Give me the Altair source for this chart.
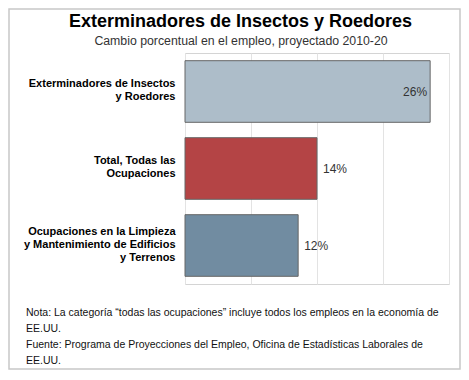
import altair as alt
import pandas as pd

# ---- data ----
categories = [
    "Exterminadores de Insectos|y Roedores",
    "Total, Todas las|Ocupaciones",
    "Ocupaciones en la Limpieza|y Mantenimiento de Edificios|y Terrenos",
]
values = [26, 14, 12]
value_labels = ["26%", "14%", "12%"]
bar_colors = ["#adbdc9", "#b44445", "#718ca1"]
x_ticks = [0, 7, 14, 21, 28]

title_text = "Exterminadores de Insectos y Roedores"
subtitle_text = "Cambio porcentual en el empleo, proyectado 2010-20"
footer_lines = [
    "Nota: La categoría \u201ctodas las ocupaciones\u201d incluye todos los empleos en la economía de",
    "EE.UU.",
    "Fuente: Programa de Proyecciones del Empleo, Oficina de Estadísticas Laborales de",
    "EE.UU.",
]

df = pd.DataFrame({"cat": categories, "value": values, "label": value_labels})

FONT = "Liberation Sans"

y_enc = alt.Y(
    "cat:N",
    sort=categories,
    scale=alt.Scale(paddingInner=0.2, paddingOuter=0.1),
    axis=alt.Axis(
        title=None,
        labelExpr="split(datum.label, '|')",
        labelFontWeight="bold",
        labelFontSize=11,
        labelColor="#000000",
        labelLineHeight=13.3,
        labelLimit=0,
        labelPadding=10,
        labelOffset=alt.condition(
            "length(split(datum.value, '|')) > 2", alt.value(-14), alt.value(-7.5)
        ),
        ticks=False,
        domain=False,
    ),
)
x_enc = alt.X(
    "value:Q",
    scale=alt.Scale(domain=[0, 28], nice=False),
    axis=alt.Axis(
        title=None,
        values=x_ticks,
        labels=False,
        ticks=False,
        domain=False,
        grid=True,
        gridColor="#e3e3e3",
    ),
)

base = alt.Chart(df)

bars = base.mark_bar(stroke="#666666", strokeWidth=1).encode(
    x=x_enc,
    y=y_enc,
    color=alt.Color(
        "cat:N",
        scale=alt.Scale(domain=categories, range=bar_colors),
        legend=None,
    ),
)

inside = base.transform_filter("datum.value > 20").mark_text(
    align="right", baseline="middle", dx=-3, fontSize=12, color="#333333", font=FONT
).encode(x="value:Q", y=alt.Y("cat:N", sort=categories), text="label:N")

outside = base.transform_filter("datum.value <= 20").mark_text(
    align="left", baseline="middle", dx=6, fontSize=12, color="#333333", font=FONT
).encode(x="value:Q", y=alt.Y("cat:N", sort=categories), text="label:N")

title = alt.Chart(pd.DataFrame({"t": [title_text]})).mark_text(
    align="center", baseline="alphabetic", fontSize=18, fontWeight="bold",
    color="#000000", font=FONT
).encode(x=alt.value(55.5), y=alt.value(-26), text="t:N")

subtitle = alt.Chart(pd.DataFrame({"t": [subtitle_text]})).mark_text(
    align="center", baseline="alphabetic", fontSize=12.3, color="#333333", font=FONT
).encode(x=alt.value(56), y=alt.value(-8.5), text="t:N")

footer = alt.Chart(pd.DataFrame({"t": ["\n".join(footer_lines)]})).mark_text(
    align="left", baseline="alphabetic", fontSize=10.5, color="#111111", font=FONT,
    lineBreak="\n", lineHeight=16.2
).encode(x=alt.value(-159), y=alt.value(262.5), text="t:N")

border = alt.Chart(pd.DataFrame({"t": [0]})).mark_rect(
    fill=None, stroke="#c8c8c8", strokeWidth=1.5, clip=False
).encode(
    x=alt.value(-176), x2=alt.value(275), y=alt.value(-44), y2=alt.value(316)
)

chart = (
    alt.layer(bars, inside, outside, title, subtitle, footer, border)
    .properties(
        width=264,
        height=231,
        padding={"left": 177, "top": 45, "right": 12, "bottom": 86},
        autosize=alt.AutoSizeParams(type="none"),
    )
    .configure(font=FONT)
    .configure_view(stroke="#d4d4d4", strokeWidth=1)
)

chart.save("out.html", embed_options={"renderer": "svg", "actions": False})
